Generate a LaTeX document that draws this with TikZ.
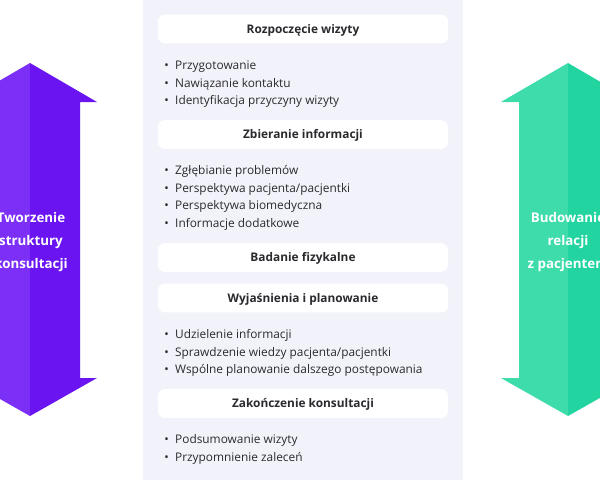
\documentclass[tikz,border=0pt]{standalone}
\usepackage{fontspec}
\setmainfont{Open Sans}
\definecolor{panel}{HTML}{F2F2FA}
\definecolor{txt}{HTML}{2A2A2E}
\definecolor{purA}{HTML}{7B2FF7}
\definecolor{purB}{HTML}{6914F1}
\definecolor{grnA}{HTML}{3EDBAB}
\definecolor{grnB}{HTML}{22D5A0}
\tikzset{
  header/.style={fill=white, rounded corners=5pt, minimum width=217.5pt, minimum height=21.5pt, inner sep=0pt, text height=6.3pt, text depth=0pt, font=\fontsize{8.9}{10}\selectfont\bfseries, text=txt},
  item/.style={anchor=west, inner sep=0pt, font=\fontsize{8.9}{10}\selectfont, text=txt},
  arrowlabel/.style={align=center, text=white, font=\fontsize{10}{17}\selectfont\bfseries}
}
\newcommand{\bul}{\makebox[8.2pt][l]{\textbullet}}
\begin{document}
\begin{tikzpicture}[x=0.75pt,y=-0.75pt]
\useasboundingbox (0,0) rectangle (600,480);
\clip (0,0) rectangle (600,480);
\fill[white] (0,0) rectangle (600,480);
\fill[panel] (143,0) rectangle (463,480);
% left arrow
\fill[purA] (30,63) -- (30,416) -- (-37,378) -- (-20,378) -- (-20,102) -- (-37,102) -- cycle;
\fill[purB] (30,63) -- (97,102) -- (80,102) -- (80,378) -- (97,378) -- (30,416) -- cycle;
% right arrow
\fill[grnA] (568,63) -- (568,416) -- (501,378) -- (519,378) -- (519,102) -- (501,102) -- cycle;
\fill[grnB] (568,63) -- (635,102) -- (617,102) -- (617,378) -- (635,378) -- (568,416) -- cycle;
\node[arrowlabel] (lbl) at (31,242) {Tworzenie\\struktury\\konsultacji};
\node[arrowlabel] (rbl) at (568,242) {Budowanie\\relacji\\z pacjentem};
% headers
\node[header] (h1) at (303,29) {Rozpoczęcie wizyty};
\node[header] (h2) at (303,134.5) {Zbieranie informacji};
\node[header] (h3) at (303,257.5) {Badanie fizykalne};
\node[header] (h4) at (303,298) {Wyjaśnienia i planowanie};
\node[header] (h5) at (303,403.5) {Zakończenie konsultacji};
% items
\node[item] (a1) at (164,66.5) {\bul Przygotowanie};
\node[item] (a2) at (164,84) {\bul Nawiązanie kontaktu};
\node[item] (a3) at (164,101.5) {\bul Identyfikacja przyczyny wizyty};
\node[item] (b1) at (164,171.5) {\bul Zgłębianie problemów};
\node[item] (b2) at (164,189) {\bul Perspektywa pacjenta/pacjentki};
\node[item] (b3) at (164,206.5) {\bul Perspektywa biomedyczna};
\node[item] (b4) at (164,224) {\bul Informacje dodatkowe};
\node[item] (c1) at (164,335.5) {\bul Udzielenie informacji};
\node[item] (c2) at (164,353) {\bul Sprawdzenie wiedzy pacjenta/pacjentki};
\node[item] (c3) at (164,370.5) {\bul Wspólne planowanie dalszego postępowania};
\node[item] (d1) at (164,440.5) {\bul Podsumowanie wizyty};
\node[item] (d2) at (164,458) {\bul Przypomnienie zaleceń};
\end{tikzpicture}
\end{document}
